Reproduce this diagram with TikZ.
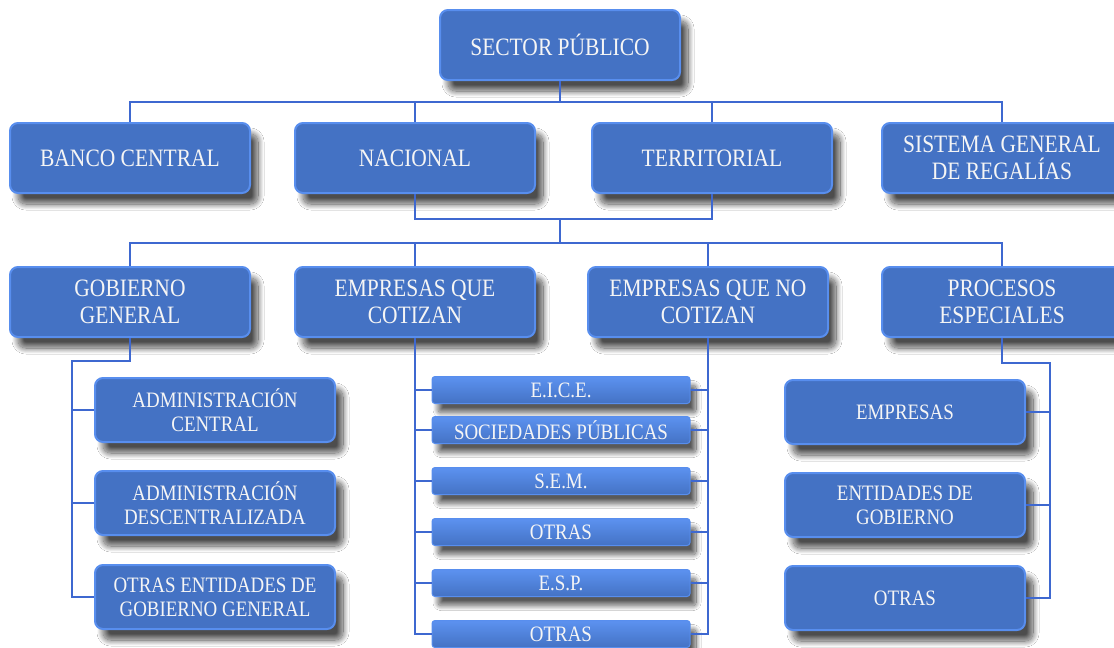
\documentclass[tikz,border=0pt]{standalone}
\usepackage{fontspec}
\usepackage{tikz}
\usetikzlibrary{positioning,shadows.blur}
\newfontfamily\boxfont{Liberation Serif}[FakeStretch=0.86]
\definecolor{boxclr}{RGB}{68,114,196}
\definecolor{edgeclr}{RGB}{88,142,238}
\definecolor{barhiclr}{RGB}{92,146,240}
\definecolor{lineclr}{RGB}{62,104,208}
\definecolor{txtclr}{RGB}{245,245,245}
\tikzset{ %
  ,every node/.style={font=\boxfont\fontsize{25}{27}\selectfont, text=txtclr, align=center}
  ,box/.style={draw=edgeclr, line width=2pt, fill=boxclr, rounded corners=8pt, minimum width=240pt, minimum height=70pt, inner sep=0,
     blur shadow={shadow xshift=8pt, shadow yshift=-11pt, shadow blur radius=6pt, shadow blur steps=30, shadow opacity=70}}
  ,subbox/.style={box, minimum height=64pt, font=\boxfont\fontsize{22}{24}\selectfont}
  ,bar/.style={draw=edgeclr, line width=1pt, top color=barhiclr, bottom color=boxclr, rounded corners=3pt, minimum width=258pt, minimum height=27pt, inner sep=0,
     font=\boxfont\fontsize{22}{24}\selectfont,
     blur shadow={shadow xshift=6pt, shadow yshift=-9pt, shadow blur radius=5pt, shadow blur steps=25, shadow opacity=65}}
  ,conn/.style={draw=lineclr, line width=1.6pt}
}
\begin{document}
\begin{tikzpicture}[x=1pt, y=-1pt]
  \path[use as bounding box, fill=white] (0,0) rectangle (1114,648);
  % top
  \node[box] (sp) at (560,45) {SECTOR PÚBLICO};
  % first level
  \node[box] (bc)  at (130,158)  {BANCO CENTRAL};
  \node[box] (nac) at (415,158)  {NACIONAL};
  \node[box] (ter) at (712,158)  {TERRITORIAL};
  \node[box] (sgr) at (1002,158) {SISTEMA GENERAL\\DE REGALÍAS};
  % second level
  \node[box] (gg)  at (130,302)  {GOBIERNO\\GENERAL};
  \node[box] (eqc) at (415,302)  {EMPRESAS QUE\\COTIZAN};
  \node[box] (enc) at (708,302)  {EMPRESAS QUE NO\\COTIZAN};
  \node[box] (pe)  at (1002,302) {PROCESOS\\ESPECIALES};
  % gobierno general
  \node[subbox] (ac) at (215,410) {ADMINISTRACIÓN\\CENTRAL};
  \node[subbox] (ad) at (215,503) {ADMINISTRACIÓN\\DESCENTRALIZADA};
  \node[subbox] (oe) at (215,597) {OTRAS ENTIDADES DE\\GOBIERNO GENERAL};
  % empresas
  \node[bar] (b1) at (561,390) {E.I.C.E.};
  \node[bar] (b2) at (561,430) {SOCIEDADES PÚBLICAS};
  \node[bar] (b3) at (561,481) {S.E.M.};
  \node[bar] (b4) at (561,532) {OTRAS};
  \node[bar] (b5) at (561,583) {E.S.P.};
  \node[bar] (b6) at (561,634) {OTRAS};
  % procesos especiales
  \node[subbox] (pemp) at (905,412) {EMPRESAS};
  \node[subbox] (pent) at (905,505) {ENTIDADES DE\\GOBIERNO};
  \node[subbox] (potr) at (905,598) {OTRAS};

  \foreach \n in {bc,nac,ter,sgr}
    \draw[conn] (sp.south) -- ++(0,21) -| (\n.north);
  \draw[conn] (nac.south) -- ++(0,25) coordinate (j1) -| (ter.south);
  \coordinate (join) at (sp.south |- j1);
  \foreach \n in {gg,eqc,enc,pe}
    \draw[conn] (join) -- ++(0,24) -| (\n.north);

  \draw[conn] (gg.south) -- ++(0,23) -| ([xshift=-22pt]oe.west) -- (oe.west);
  \foreach \n in {ac,ad}
    \draw[conn] (\n.west) -- ++(-22,0);

  \draw[conn] (eqc.south) |- (b6.west);
  \draw[conn] (enc.south) |- (b6.east);
  \foreach \n in {b1,b2,b3,b4,b5} {
    \draw[conn] (\n.west) -- (\n.west -| eqc.south);
    \draw[conn] (\n.east) -- (\n.east -| enc.south);
  }

  \draw[conn] (pe.south) -- ++(0,25) -| ([xshift=24pt]potr.east) -- (potr.east);
  \foreach \n in {pemp,pent}
    \draw[conn] (\n.east) -- ++(24,0);
\end{tikzpicture}
\end{document}
